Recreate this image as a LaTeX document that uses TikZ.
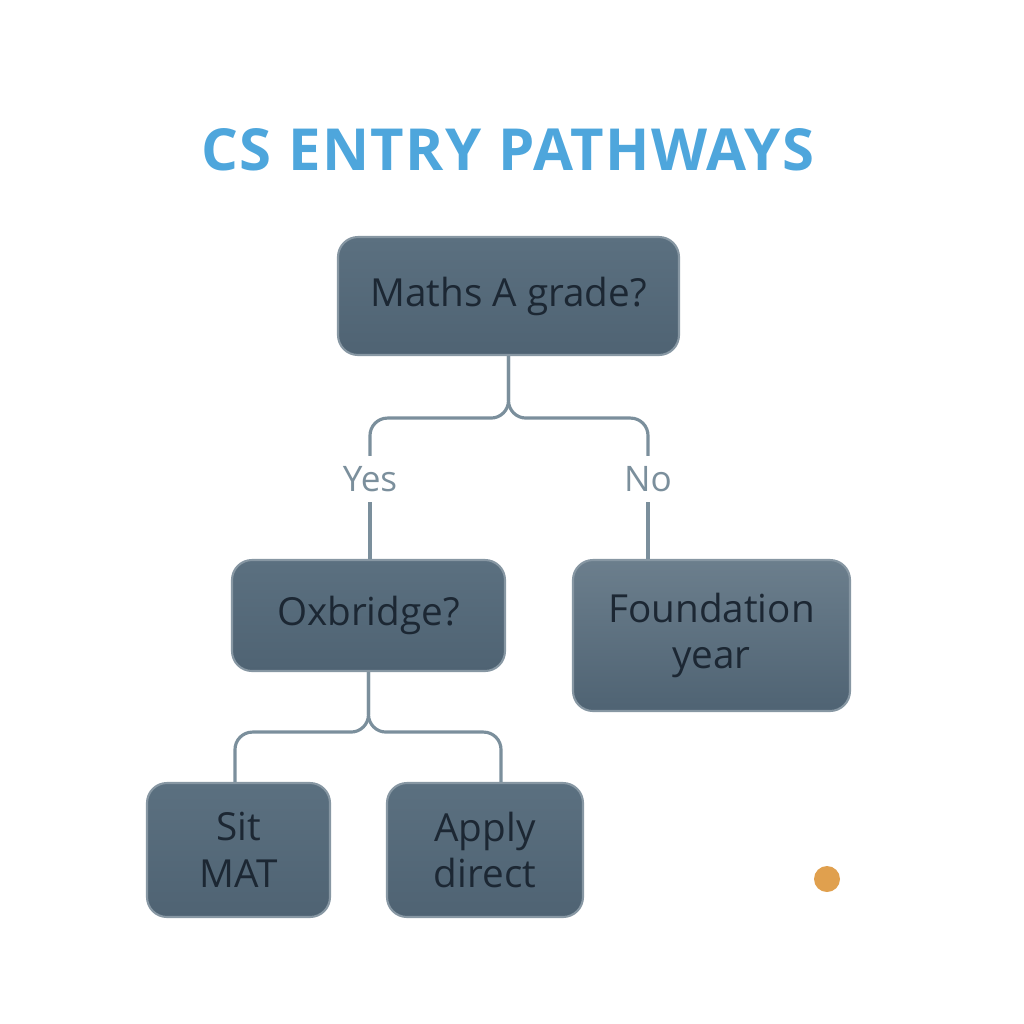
\documentclass[tikz,border=0pt]{standalone}
\usepackage{fontspec}
\setmainfont{Open Sans}
\newfontfamily\titlefont[LetterSpace=2.5]{Open Sans}
\definecolor{boxfill}{HTML}{5B7080}
\definecolor{boxdark}{HTML}{4F6373}
\definecolor{boxline}{HTML}{8797A3}
\definecolor{boxtext}{HTML}{1C2733}
\definecolor{wirecol}{HTML}{7B8F9C}
\definecolor{titleblue}{HTML}{4EA6DC}
\definecolor{dotorange}{HTML}{E0A04E}
\tikzset{
  qbox/.style={draw=boxline,line width=1.2pt,rounded corners=0.4cm,
    top color=boxfill,bottom color=boxdark,text=boxtext,align=center,
    font=\fontsize{22}{26.5}\selectfont},
  link/.style={draw=wirecol,line width=1.8pt,rounded corners=0.35cm},
  answer/.style={text=wirecol,font=\fontsize{20}{24}\selectfont,inner sep=0.2cm}
}
\begin{document}
\begin{tikzpicture}
\useasboundingbox (0,0) rectangle (20.48,-20.48);
\node[text=titleblue,font=\titlefont\bfseries\fontsize{33}{37}\selectfont] (title) at (10.16,-3.0) {CS ENTRY PATHWAYS};
\node[qbox,minimum width=6.82cm,minimum height=2.36cm] (maths) at (10.17,-5.92) {Maths A grade?};
\node[answer] (yes) at (7.40,-9.58) {Yes};
\node[answer] (no) at (12.96,-9.58) {No};
\node[qbox,minimum width=5.46cm,minimum height=2.22cm] (oxb) at (7.37,-12.31) {Oxbridge?};
\node[qbox,minimum width=5.54cm,minimum height=3.02cm,shading angle=135,top color=boxfill!90!white,bottom color=boxdark] (found) at (14.23,-12.71) {Foundation\\year};
\node[qbox,minimum width=3.66cm,minimum height=2.68cm] (sit) at (4.77,-17.0) {Sit\\MAT};
\node[qbox,minimum width=3.92cm,minimum height=2.68cm] (apply) at (9.70,-17.0) {Apply\\direct};
\fill[dotorange] (16.54,-17.58) circle (0.26);
% first split
\draw[link] (maths.south) -- ++(0,-1.24) -| (yes.north);
\draw[link] (maths.south) -- ++(0,-1.24) -| (no.north);
\draw[link] (yes.south) -- (yes.south |- oxb.north);
\draw[link] (no.south) -- (no.south |- found.north);
% second split
\draw[link] (oxb.south) -- ++(0,-1.2) -| ([xshift=-0.07cm]sit.north);
\draw[link] (oxb.south) -- ++(0,-1.2) -| ([xshift=0.32cm]apply.north);
\end{tikzpicture}
\end{document}
